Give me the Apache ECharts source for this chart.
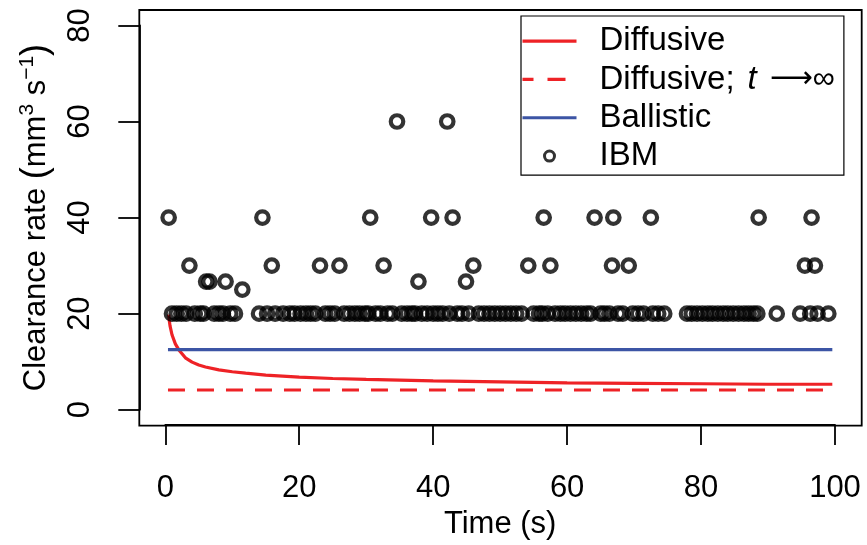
<!DOCTYPE html>
<html>
<head>
<meta charset="utf-8">
<script src="https://cdn.jsdelivr.net/npm/echarts@6/dist/echarts.min.js"></script>
<style>
  html, body { margin: 0; padding: 0; background: #ffffff; }
  #chart { width: 867px; height: 545px; }
</style>
</head>
<body>
<div id="chart"></div>
<script>
// Axis ticks
const xTicks = [0, 20, 40, 60, 80, 100];
const yTicks = [0, 20, 40, 60, 80];

// Diffusive clearance rate over time
const diffTime = [0.5, 0.6, 0.7, 1.0, 1.5, 2.0, 3.0, 4.0, 5.0, 6.0, 8.0, 10, 12, 15, 20, 25, 30, 40, 50, 60, 70, 80, 90, 99.6];
const diffRate = [19.8, 18.5, 17.5, 15.6, 13.7, 12.5, 10.8, 9.9, 9.3, 8.9, 8.3, 7.9, 7.6, 7.2, 6.8, 6.5, 6.3, 6.0, 5.8, 5.6, 5.5, 5.4, 5.3, 5.3];

// Long-time diffusive limit
const asymTime = [0.4, 99.6];
const asymRate = [4.1, 4.1];

// Ballistic clearance rate
const ballTime = [0.4, 99.6];
const ballRate = [12.5, 12.5];

// IBM estimates, grouped by the value they take
const ibmAt20 = [
  1.0, 1.7, 2.4, 3.1, 4.4, 5.2, 5.7, 7.3, 8.0, 8.6, 9.7, 10.4,
  14.0, 15.2, 16.4, 17.6, 18.6, 19.3, 20.2, 21.0, 21.7, 22.4, 23.9, 24.6, 25.3,
  26.7, 27.5, 28.3, 29.0, 29.8, 30.3, 31.4, 32.1, 33.2, 33.9, 35.3, 36.1, 36.8,
  37.3, 38.3, 39.1, 40.0, 40.7, 41.4, 42.4, 43.6, 44.3, 45.3, 46.8, 47.6, 48.4,
  49.2, 50.0, 50.8, 51.6, 52.4, 53.2, 55.0, 55.8, 56.3, 57.1, 58.2, 59.0, 59.7,
  60.5, 61.3, 62.1, 62.9, 63.5, 65.0, 65.6, 66.3, 67.6, 68.3, 69.8, 70.6, 71.4,
  72.8, 73.6, 74.5, 77.9, 78.6, 79.4, 80.2, 81.0, 81.7, 82.5, 83.3, 84.0, 84.8,
  85.6, 86.4, 87.1, 87.8, 88.4, 91.3, 94.8, 96.3, 97.4, 99.0
];
const ibmAt25 = [11.5];
const ibmAt26 = [6.1, 6.6, 9.0, 37.8, 44.9];
const ibmAt30 = [3.6, 15.9, 23.1, 26.0, 32.6, 46.0, 54.2, 57.5, 66.7, 69.2, 95.5, 97.0];
const ibmAt40 = [0.5, 14.5, 30.6, 39.7, 42.9, 56.5, 64.1, 66.9, 72.5, 88.6, 96.5];
const ibmAt60 = [34.6, 42.1];

const FONT = '"Liberation Sans", Arial, Helvetica, sans-serif';
const SYMBOL_FONT = '"DejaVu Sans", "Liberation Sans", sans-serif';
const RED = '#ee2226';
const BLUE = '#3c55a5';
const ASYM_NAME = 'Diffusive; t \u2192\u221e';
const LEGEND_SIZE = 33;
const LEGEND_ROW = 38.3;

// legend keys: a solid bar and a dashed bar, 54 px wide
const SOLID_KEY = 'path://M0,0H54V3.2H0Z';
const DASHED_KEY = 'path://M0,0H11V3.2H0Z M25,0H43V3.2H25Z M54,0L54,3.2';

const pairs = (xs, ys) => xs.map((x, i) => [x, ys[i]]);
const level = (xs, v) => xs.map(x => [x, v]);

const ibmData = [].concat(
  level(ibmAt20, 20),
  level(ibmAt25, 25),
  level(ibmAt26, 80 / 3),
  level(ibmAt30, 30),
  level(ibmAt40, 40),
  level(ibmAt60, 60)
);

const legendRich = {
  t: { fontSize: LEGEND_SIZE, lineHeight: LEGEND_ROW, color: '#000', fontFamily: FONT },
  it: { fontSize: LEGEND_SIZE, lineHeight: LEGEND_ROW, fontStyle: 'italic', color: '#000',
        fontFamily: FONT, padding: [0, 0, 0, 13] },
  ar: { fontSize: 30, lineHeight: LEGEND_ROW, color: '#000', fontFamily: SYMBOL_FONT,
        padding: [0, 0, 0, 13] },
  inf: { fontSize: 31, lineHeight: LEGEND_ROW, color: '#000', fontFamily: FONT }
};

const chart = echarts.init(document.getElementById('chart'), null, { renderer: 'canvas' });

chart.setOption({
  animation: false,
  backgroundColor: '#ffffff',
  textStyle: { fontFamily: FONT },
  grid: [
    // plot frame
    { left: 139.3, right: 5.3, top: 10, bottom: 119.3, show: true,
      borderColor: '#000', borderWidth: 1.8, backgroundColor: 'transparent' },
    // data area, spanning the tick range
    { left: 165.3, right: 32, top: 25.4, bottom: 134.7 }
  ],
  xAxis: [
    { gridIndex: 0, type: 'value', min: -3.9, max: 104, show: false },
    {
      gridIndex: 1, type: 'value', min: 0, max: 100,
      offset: 15.4,
      name: 'Time (s)', nameLocation: 'middle', nameGap: 78,
      nameTextStyle: { fontSize: 31, color: '#000', fontFamily: FONT },
      axisLine: { show: true, onZero: false, lineStyle: { color: '#000', width: 1.8 } },
      axisTick: { show: true, length: 20, inside: false, customValues: xTicks,
                  lineStyle: { color: '#000', width: 1.8 } },
      axisLabel: { customValues: xTicks, fontSize: 31, color: '#000', margin: 48, fontFamily: FONT },
      splitLine: { show: false }
    }
  ],
  yAxis: [
    { gridIndex: 0, type: 'value', min: -3.2, max: 83.2, show: false },
    {
      gridIndex: 1, type: 'value', min: 0, max: 80,
      offset: 26,
      name: 'Clearance rate {p|(}mm{sup|3} s{sup|\u22121}{p|)}',
      nameLocation: 'middle', nameRotate: 90, nameGap: 83,
      nameTextStyle: {
        fontSize: 31, color: '#000', fontFamily: FONT, lineHeight: 40,
        rich: {
          sup: { fontSize: 21, lineHeight: 22, verticalAlign: 'top', color: '#000', fontFamily: FONT },
          p: { fontSize: 36, lineHeight: 40, color: '#000', fontFamily: FONT }
        }
      },
      axisLine: { show: true, onZero: false, lineStyle: { color: '#000', width: 1.8 } },
      axisTick: { show: true, length: 21, inside: false, customValues: yTicks,
                  lineStyle: { color: '#000', width: 1.8 } },
      axisLabel: { customValues: yTicks, rotate: 90, fontSize: 31, color: '#000', margin: 43, fontFamily: FONT },
      splitLine: { show: false }
    }
  ],
  legend: {
    left: 521, top: 16,
    orient: 'vertical',
    itemWidth: 54, itemHeight: 10, itemGap: 0,
    padding: [6, 9, 0, 1.5],
    borderColor: '#000', borderWidth: 1.2,
    backgroundColor: '#fff',
    selectedMode: false,
    symbolKeepAspect: true,
    data: [
      { name: 'Diffusive', icon: SOLID_KEY, itemStyle: { color: RED, borderWidth: 0 } },
      { name: ASYM_NAME, icon: DASHED_KEY, itemStyle: { color: RED, borderWidth: 0 } },
      { name: 'Ballistic', icon: SOLID_KEY, itemStyle: { color: BLUE, borderWidth: 0 } },
      { name: 'IBM', icon: 'circle',
        itemStyle: { color: '#fff', borderColor: '#000', borderWidth: 3 } }
    ],
    formatter: name => name === ASYM_NAME
      ? '{t|Diffusive;}{it|t}{ar|\u27f6}{inf|\u221e}'
      : '{t|' + name + '}',
    textStyle: {
      fontSize: LEGEND_SIZE, color: '#000', fontFamily: FONT, lineHeight: LEGEND_ROW,
      padding: [0, 0, 0, 18],
      rich: legendRich
    }
  },
  series: [
    {
      name: 'IBM', type: 'scatter', xAxisIndex: 1, yAxisIndex: 1,
      data: ibmData, symbol: 'circle', symbolSize: 12.5, clip: false, z: 3,
      itemStyle: { color: 'rgba(0,0,0,0)', borderColor: '#000', borderWidth: 4.2 },
      emphasis: { disabled: true }
    },
    {
      name: 'Diffusive', type: 'line', xAxisIndex: 1, yAxisIndex: 1,
      data: pairs(diffTime, diffRate), symbol: 'none', clip: false, z: 2,
      lineStyle: { color: RED, width: 3.2 }, itemStyle: { color: RED }
    },
    {
      name: ASYM_NAME, type: 'line', xAxisIndex: 1, yAxisIndex: 1,
      data: pairs(asymTime, asymRate), symbol: 'none', clip: false, z: 2,
      lineStyle: { color: RED, width: 3.2, type: [17, 12] }, itemStyle: { color: RED }
    },
    {
      name: 'Ballistic', type: 'line', xAxisIndex: 1, yAxisIndex: 1,
      data: pairs(ballTime, ballRate), symbol: 'none', clip: false, z: 2,
      lineStyle: { color: BLUE, width: 3.2 }, itemStyle: { color: BLUE }
    }
  ]
});
</script>
</body>
</html>
